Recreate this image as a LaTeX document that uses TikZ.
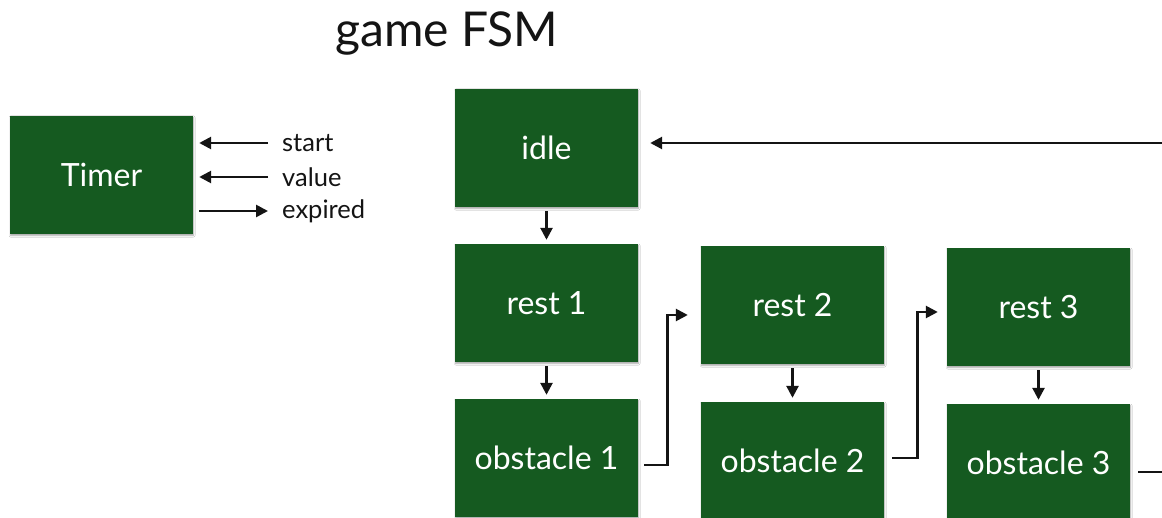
\documentclass[tikz,border=0pt]{standalone}
\usepackage{fontspec}
\setmainfont{Lato}
\usetikzlibrary{arrows.meta,shadows.blur}
\definecolor{stategreen}{RGB}{21,90,32}
\definecolor{ink}{RGB}{20,20,20}
\tikzset{
  state/.style={fill=stategreen, text=white, minimum width=183, minimum height=118,
    inner sep=0pt, font=\fontsize{32}{36}\selectfont,
    blur shadow={shadow xshift=0.5pt, shadow yshift=-1.5pt, shadow blur steps=4, shadow blur radius=1.5pt, shadow opacity=35}},
  sig/.style={anchor=west, inner sep=0pt, text=ink, font=\fontsize{25.5}{28}\selectfont},
  conn/.style={draw=ink, line width=2.6pt, -{Triangle[length=12pt,width=12pt]}},
  wire/.style={draw=ink, line width=2.6pt}
}
\begin{document}
\begin{tikzpicture}[x=1pt,y=-1pt]
  \useasboundingbox (0,0) rectangle (1162,518);
  \fill[white] (0,0) rectangle (1162,518);
  \begin{scope}
  \clip (0,0) rectangle (1162,518);

  % title
  \node[font=\fontsize{48}{52}\selectfont, text=ink] (title) at (447,33) {game FSM};

  % timer component and its signals
  \node[state] (timer) at (101.5,175) {Timer};
  \node[sig] (lstart)   at (282,143) {start};
  \node[sig] (lvalue)   at (282,177) {value};
  \node[sig] (lexpired) at (282,211) {expired};
  \draw[conn] ([xshift=-14pt]lstart.west) -- ([xshift=6pt]lstart.west -| timer.east);
  \draw[conn] ([xshift=-14pt]lvalue.west) -- ([xshift=6pt]lvalue.west -| timer.east);
  \draw[conn] ([xshift=6pt]lexpired.west -| timer.east) -- ([xshift=-14pt]lexpired.west);

  % state column 1
  \node[state] (idle) at (546.5,148) {idle};
  \node[state] (r1)   at (546.5,303) {rest 1};
  \node[state] (o1)   at (546.5,458) {obstacle 1};
  % state column 2
  \node[state] (r2)   at (792.5,305) {rest 2};
  \node[state] (o2)   at (792.5,461) {obstacle 2};
  % state column 3
  \node[state] (r3)   at (1038.5,307) {rest 3};
  \node[state] (o3)   at (1038.5,463) {obstacle 3};

  % transitions inside each column
  \draw[conn, shorten <=4pt, shorten >=4pt] (idle.south) -- (r1.north);
  \draw[conn, shorten <=4pt, shorten >=4pt] (r1.south) -- (o1.north);
  \draw[conn, shorten <=4pt, shorten >=4pt] (r2.south) -- (o2.north);
  \draw[conn, shorten <=4pt, shorten >=4pt] (r3.south) -- (o3.north);

  % obstacle n -> rest n+1
  \draw[conn] ([shift={(6,7)}]o1.east) -- ++(23,0) |- ([shift={(-13,10)}]r2.west);
  \draw[conn] ([shift={(8,-3)}]o2.east) -- ++(25,0) |- ([shift={(-9,5)}]r3.west);

  % obstacle 3 loops back to idle
  \coordinate (loopout) at (1170,472);
  \coordinate (loopin)  at (1170,143);
  \draw[wire] ([shift={(8,9)}]o3.east) -- (loopout);
  \draw[conn] (loopin) -- ([xshift=12pt]loopin -| idle.east);
  \end{scope}
\end{tikzpicture}
\end{document}
